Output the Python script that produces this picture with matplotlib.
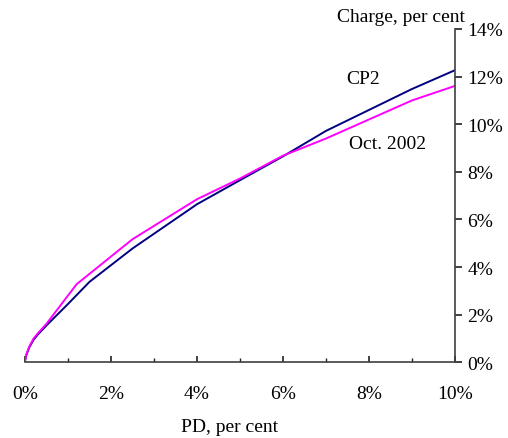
import matplotlib
matplotlib.use("Agg")
import matplotlib.pyplot as plt
from matplotlib.ticker import FuncFormatter, MultipleLocator

plt.rcParams['font.family'] = ['Liberation Serif', 'DejaVu Serif']

# Data (PD in per cent, charge in per cent)
cp2_pd = [0.0, 0.03, 0.1, 0.2, 0.3, 0.5, 1.0, 1.5, 2.5, 4.0, 5.0, 6.0, 7.0, 8.0, 9.0, 10.0]
cp2_charge = [0.05, 0.3, 0.63, 0.95, 1.17, 1.55, 2.45, 3.38, 4.78, 6.64, 7.65, 8.65, 9.72, 10.6, 11.48, 12.27]

oct_pd = [0.0, 0.03, 0.1, 0.2, 0.3, 0.5, 1.2, 2.5, 4.0, 5.0, 6.0, 7.0, 8.0, 9.0, 10.0]
oct_charge = [0.06, 0.32, 0.66, 1.0, 1.22, 1.62, 3.28, 5.17, 6.85, 7.72, 8.68, 9.4, 10.2, 11.0, 11.61]

x_ticks = [0, 2, 4, 6, 8, 10]
y_ticks = [0, 2, 4, 6, 8, 10, 12, 14]

fig = plt.figure(figsize=(5.08, 4.39), dpi=100)
ax = fig.add_axes([0.0492, 0.1724, 0.8465, 0.7593])

ax.plot(cp2_pd, cp2_charge, color='#000080', lw=1.4)
ax.plot(oct_pd, oct_charge, color='#FF00FF', lw=1.4)

ax.set_xlim(0, 10)
ax.set_ylim(0, 14)

for s in ['top', 'left']:
    ax.spines[s].set_visible(False)
for s in ['bottom', 'right']:
    ax.spines[s].set_color('#404040')
    ax.spines[s].set_linewidth(1.2)

ax.yaxis.tick_right()
ax.set_xticks(x_ticks)
ax.xaxis.set_minor_locator(MultipleLocator(1))
ax.set_yticks(y_ticks)
pct = FuncFormatter(lambda v, p: f"{v:.0f}%")
ax.xaxis.set_major_formatter(pct)
ax.yaxis.set_major_formatter(pct)

fs = 14
ax.tick_params(axis='x', which='major', direction='in', length=4, width=1.2,
               color='#202020', pad=16, labelsize=fs)
ax.tick_params(axis='x', which='minor', direction='in', length=3, width=1.0,
               color='#202020')
ax.tick_params(axis='y', which='major', direction='out', length=5, width=1.2,
               color='#202020', pad=4, labelsize=fs)

ax.text(0.786, 0.85, 'CP2', transform=ax.transAxes, fontsize=fs, ha='center', va='center')
ax.text(0.842, 0.655, 'Oct. 2002', transform=ax.transAxes, fontsize=fs, ha='center', va='center')

fig.text(465/508, 1 - 18/439, 'Charge, per cent', fontsize=fs, ha='right', va='center')
fig.text(230/508, 1 - 428/439, 'PD, per cent', fontsize=fs, ha='center', va='center')

fig.savefig('out.png', dpi=100)
